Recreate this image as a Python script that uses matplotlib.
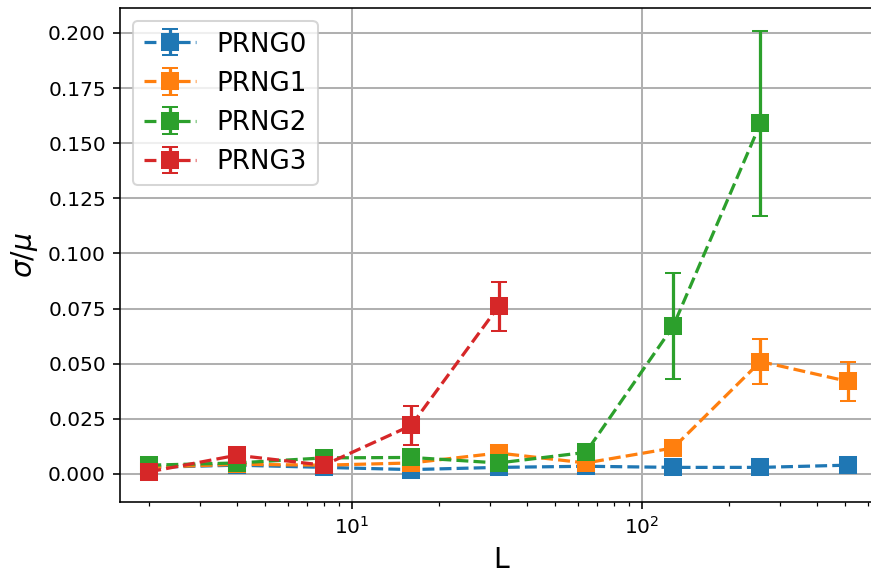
import numpy as np
import matplotlib
matplotlib.use("Agg")
import matplotlib.pyplot as plt

L = [2, 4, 8, 16, 32, 64, 128, 256, 512]

# sigma/mu and its error for each generator
prng0 = [0.003, 0.004, 0.003, 0.002, 0.003, 0.0035, 0.003, 0.003, 0.004]
prng0_err = [0.0005, 0.0005, 0.0005, 0.0005, 0.0005, 0.0005, 0.0005, 0.0005, 0.0005]

prng1 = [0.003, 0.0044, 0.004, 0.005, 0.0095, 0.005, 0.0118, 0.051, 0.042]
prng1_err = [0.0005, 0.0005, 0.0005, 0.0005, 0.001, 0.0005, 0.001, 0.010, 0.009]

prng2_L = [2, 4, 8, 16, 32, 64, 128, 256]
prng2 = [0.004, 0.005, 0.0073, 0.0075, 0.005, 0.0098, 0.067, 0.159]
prng2_err = [0.0005, 0.0005, 0.0005, 0.0005, 0.0005, 0.001, 0.024, 0.042]

prng3_L = [2, 4, 8, 16, 32]
prng3 = [0.001, 0.0085, 0.004, 0.022, 0.076]
prng3_err = [0.0005, 0.001, 0.0005, 0.0088, 0.011]

def main():
    fig = plt.figure(figsize=(872 / 145, 577 / 145), dpi=145)
    ax = fig.add_axes([120 / 872, 75 / 577, 762.5 / 872, 494 / 577])

    style = dict(fmt="s--", markersize=7.5, capsize=4, linewidth=1.6, elinewidth=1.6)
    ax.errorbar(L, prng0, yerr=prng0_err, label="PRNG0", **style)
    ax.errorbar(L, prng1, yerr=prng1_err, label="PRNG1", **style)
    ax.errorbar(prng2_L, prng2, yerr=prng2_err, label="PRNG2", **style)
    ax.errorbar(prng3_L, prng3, yerr=prng3_err, label="PRNG3", **style)

    ax.set_xscale("log")
    ax.set_xlim(10 ** 0.2, 10 ** 2.829)
    ax.set_ylim(-0.0127, 0.2113)
    ax.set_xlabel("L", fontsize=14)
    ax.set_ylabel(r"$\sigma/\mu$", fontsize=14)
    ax.grid(True, color="#b0b0b0", linewidth=1.0)
    ax.legend(loc="upper left", fontsize=13)

    fig.savefig("out.png", dpi=145)

if __name__ == "__main__":
    main()
